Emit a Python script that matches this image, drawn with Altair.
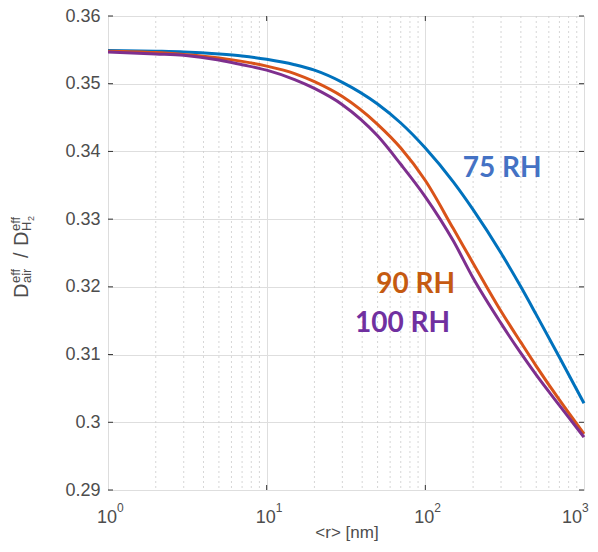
import altair as alt
import pandas as pd

# ---- data ----
r_nm = [1, 2, 3, 5, 7, 10, 15, 20, 30, 50, 70, 100, 150, 200, 300, 400, 500, 700, 1000]
rh75 = [0.3549, 0.3548, 0.3547, 0.3544, 0.3541, 0.3536, 0.3528, 0.3520, 0.3502, 0.3470,
        0.3442, 0.3405, 0.3355, 0.3314, 0.3250, 0.3200, 0.3159, 0.3096, 0.3028]
rh90 = [0.3548, 0.3546, 0.3543, 0.3538, 0.3533, 0.3526, 0.3515, 0.3503, 0.3481, 0.3440,
        0.3405, 0.3357, 0.3286, 0.3235, 0.3164, 0.3118, 0.3083, 0.3033, 0.2983]
rh100 = [0.3547, 0.3544, 0.3542, 0.3535, 0.3528, 0.3520, 0.3506, 0.3493, 0.3469, 0.3423,
         0.3381, 0.3333, 0.3268, 0.3213, 0.3146, 0.3102, 0.3070, 0.3025, 0.2978]

series_names = ["75 RH", "90 RH", "100 RH"]
line_colors = ["#0072BD", "#D95319", "#7E2F8E"]
label_colors = ["#4472C4", "#C55A11", "#7030A0"]
label_r = [172, 49, 36]
label_v = [0.3374, 0.3203, 0.3145]

y_ticks = [0.29, 0.30, 0.31, 0.32, 0.33, 0.34, 0.35, 0.36]
x_major = [1, 10, 100]
x_exp = ["0", "1", "2"]
x_last = [1000]
x_last_exp = ["3"]
x_minor = [2, 3, 4, 5, 6, 7, 8, 9, 20, 30, 40, 50, 60, 70, 80, 90,
           200, 300, 400, 500, 600, 700, 800, 900]

W, H = 476, 474
FONT = "Liberation Sans"
TXT = "#4d4d4d"

xs = alt.Scale(type="log", domain=[1, 1000], nice=False)
ys = alt.Scale(domain=[0.29, 0.36], nice=False, zero=False)

df = pd.DataFrame({"r": r_nm, "a": rh75, "b": rh90, "c": rh100})

ax_x = alt.Axis(values=[10, 100], grid=True, gridColor="#dedede", gridWidth=1,
                labels=False, ticks=False, domain=False, title=None)
ax_y = alt.Axis(values=y_ticks, format=".2~f", grid=True, gridColor="#dedede",
                gridWidth=1, ticks=False, domain=False, labelPadding=8,
                labelFontSize=18, labelColor=TXT, labelFont=FONT, title=None)

# minor dotted grid
minor = alt.Chart(pd.DataFrame({"m": x_minor})).mark_rule(
    color="#cccccc", strokeWidth=0.8, strokeDash=[2, 3]
).encode(x=alt.X("m:Q", scale=xs, axis=ax_x))

layers = [minor]
for i, col in enumerate(["a", "b", "c"]):
    layers.append(
        alt.Chart(df).mark_line(strokeWidth=3, color=line_colors[i], interpolate="monotone").encode(
            x=alt.X("r:Q", scale=xs, axis=ax_x),
            y=alt.Y(f"{col}:Q", scale=ys, axis=ax_y),
        )
    )

# inward ticks
yt = pd.DataFrame({"v": y_ticks})
xt = pd.DataFrame({"v": [10, 100]})
tick_col = "#333333"
layers += [
    alt.Chart(yt).mark_rule(color=tick_col).encode(y=alt.Y("v:Q", scale=ys, axis=ax_y), x=alt.value(0), x2=alt.value(5)),
    alt.Chart(yt).mark_rule(color=tick_col).encode(y=alt.Y("v:Q", scale=ys, axis=ax_y), x=alt.value(W - 5), x2=alt.value(W)),
    alt.Chart(xt).mark_rule(color=tick_col).encode(x=alt.X("v:Q", scale=xs, axis=ax_x), y=alt.value(H - 5), y2=alt.value(H)),
    alt.Chart(xt).mark_rule(color=tick_col).encode(x=alt.X("v:Q", scale=xs, axis=ax_x), y=alt.value(0), y2=alt.value(5)),
]

# x tick labels 10^k
def xlabels(vals, exps, dx):
    d = pd.DataFrame({"v": vals, "e": exps})
    return [
        alt.Chart(d).mark_text(text="10", align="right", baseline="alphabetic", dx=dx,
                               fontSize=18, font=FONT, color=TXT).encode(
            x=alt.X("v:Q", scale=xs, axis=ax_x), y=alt.value(H + 33)),
        alt.Chart(d).mark_text(align="left", baseline="alphabetic", dx=dx,
                               fontSize=12, font=FONT, color=TXT).encode(
            x=alt.X("v:Q", scale=xs, axis=ax_x), y=alt.value(H + 22), text="e:N"),
    ]

layers += xlabels(x_major, x_exp, 9)
layers += xlabels(x_last, x_last_exp, -2)

# x title
one = pd.DataFrame({"k": [0]})
layers.append(
    alt.Chart(one).mark_text(text="<r> [nm]", align="center", baseline="alphabetic",
                             fontSize=17, font=FONT, color=TXT).encode(
        x=alt.value(W / 2 + 1), y=alt.value(H + 48))
)

# y title pieces (rotated)
def piece(t, sx, sy, fs):
    return alt.Chart(one).mark_text(text=t, angle=270, align="left", baseline="alphabetic",
                                    fontSize=fs, font=FONT, color=TXT).encode(
        x=alt.value(sx - 108), y=alt.value(sy - 16))

layers += [
    piece("D", 28, 298, 20),
    piece("eff", 20, 283, 13),
    piece("air", 31, 283, 13),
    piece("/", 28, 258, 20),
    piece("D", 28, 246, 20),
    piece("eff", 20, 231, 13),
    piece("H", 31, 231, 13),
    piece("2", 34, 221, 9),
]

# series labels
lab = pd.DataFrame({"t": series_names, "r": label_r, "v": label_v, "c": label_colors})
layers.append(
    alt.Chart(lab).mark_text(align="left", baseline="middle", fontSize=28, font="Lato",
                             fontWeight="bold").encode(
        x=alt.X("r:Q", scale=xs, axis=ax_x), y=alt.Y("v:Q", scale=ys, axis=ax_y), text="t:N",
        color=alt.Color("c:N", scale=None))
)

chart = alt.layer(*layers).properties(
    width=W, height=H, autosize=alt.AutoSizeParams(type="none"),
    padding={"left": 100, "top": 8, "right": 6, "bottom": 52},
).configure_view(stroke="#555555", strokeWidth=1).configure(font=FONT)

chart.save("out.html", embed_options={"renderer": "svg", "actions": False})
